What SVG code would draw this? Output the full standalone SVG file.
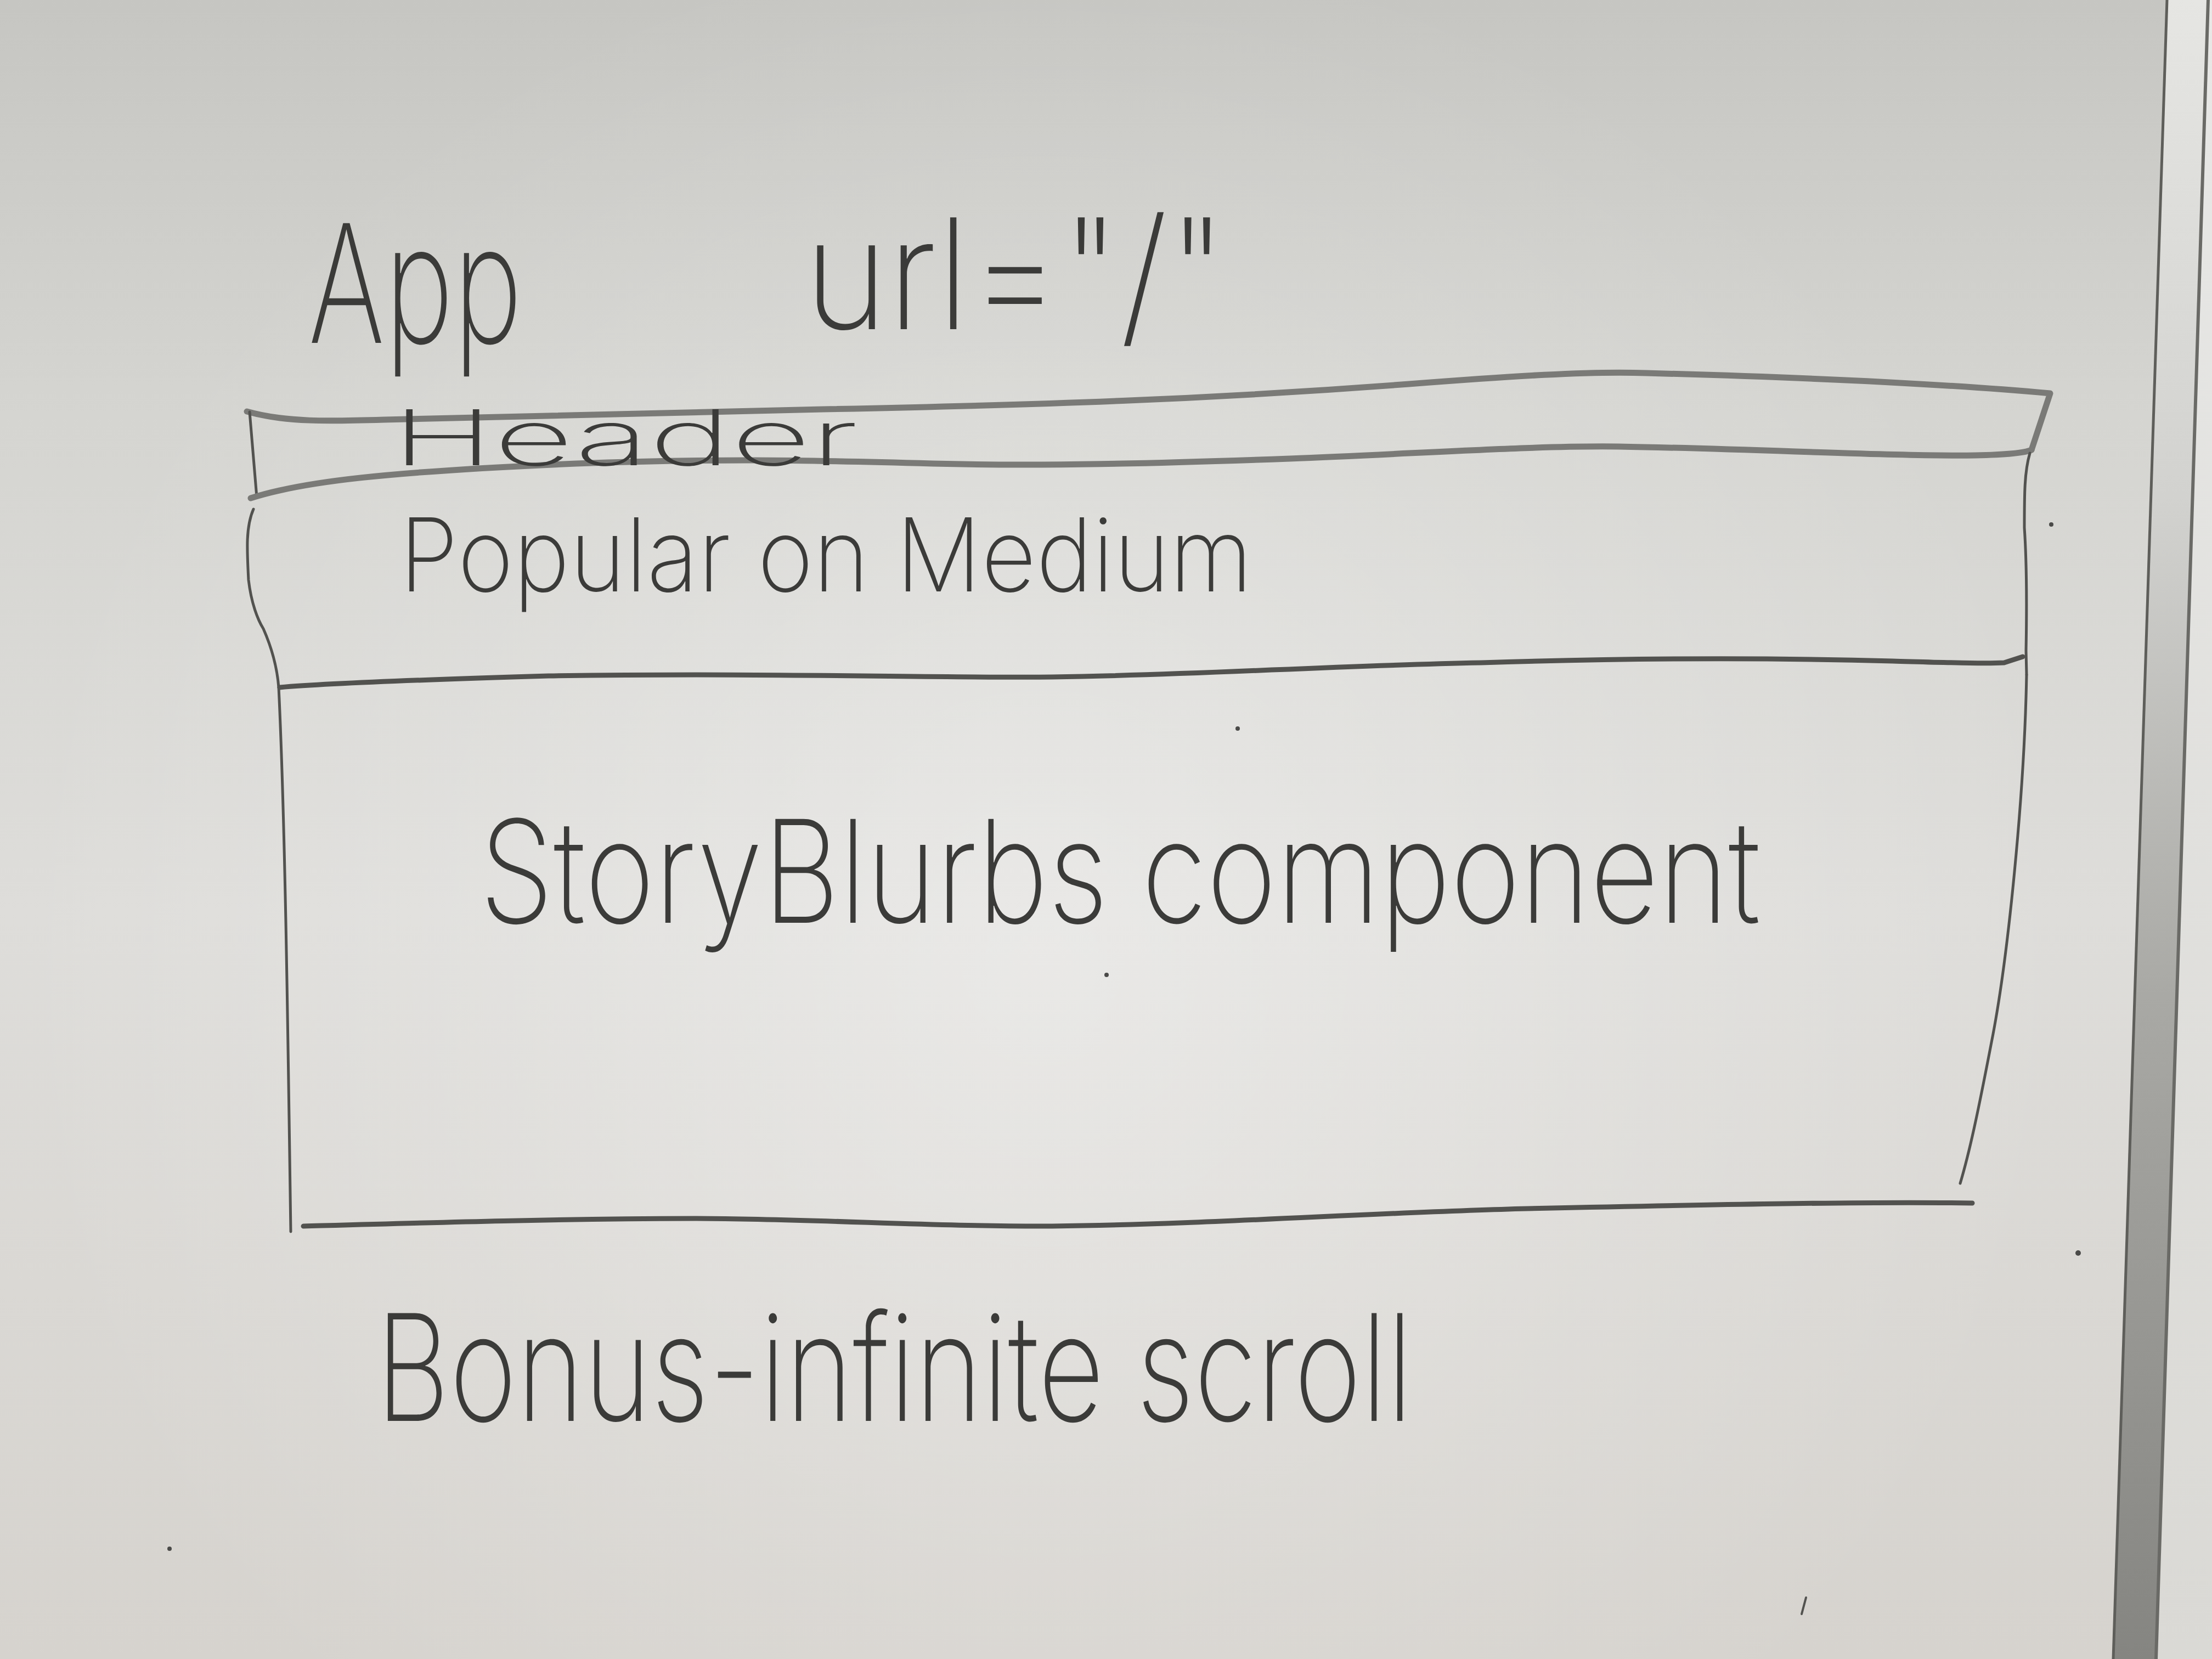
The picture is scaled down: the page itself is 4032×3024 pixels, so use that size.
<svg xmlns="http://www.w3.org/2000/svg" width="4032" height="3024" viewBox="0 0 4032 3024">
  <defs>
    <linearGradient id="board" x1="0" y1="0" x2="0" y2="1">
      <stop offset="0" stop-color="#c6c6c2"/>
      <stop offset="0.25" stop-color="#d5d5d1"/>
      <stop offset="0.55" stop-color="#dedddA"/>
      <stop offset="1" stop-color="#d6d3ce"/>
    </linearGradient>
    <radialGradient id="glow" cx="1900" cy="1750" r="1900" gradientUnits="userSpaceOnUse">
      <stop offset="0" stop-color="#ffffff" stop-opacity="0.36"/>
      <stop offset="0.6" stop-color="#ffffff" stop-opacity="0.12"/>
      <stop offset="1" stop-color="#ffffff" stop-opacity="0"/>
    </radialGradient>
    <linearGradient id="rail" x1="0" y1="0" x2="0" y2="1">
      <stop offset="0" stop-color="#e6e6e3"/>
      <stop offset="0.3" stop-color="#d2d2cf"/>
      <stop offset="0.6" stop-color="#a9a9a5"/>
      <stop offset="1" stop-color="#858581"/>
    </linearGradient>
    <linearGradient id="wall" x1="0" y1="0" x2="0" y2="1">
      <stop offset="0" stop-color="#e8e8e6"/>
      <stop offset="1" stop-color="#dad9d5"/>
    </linearGradient>
    <style>
      .ink { fill: none; stroke: #52524f; stroke-linecap: round; stroke-linejoin: round; }
      .thick { stroke-width: 9; }
      .soft { stroke: #7a7a77; stroke-width: 11; }
      .thin { stroke-width: 5; }
      .hand { font-family: Inter, Roboto, Lato, "Open Sans", "Liberation Sans", sans-serif; font-weight: 200; fill: #3b3b39; }
      .speck { fill: #4a4a48; }
    </style>
  </defs>

  <!-- whiteboard surface -->
  <rect x="0" y="0" width="4032" height="3024" fill="url(#board)"/>
  <rect x="0" y="0" width="4032" height="3024" fill="url(#glow)"/>

  <!-- aluminium rail and the wall behind it -->
  <polygon points="4025,0 4032,0 4032,3024 3930,3024" fill="url(#wall)"/>
  <polygon points="3950,0 4025,0 3930,3024 3852,3024" fill="url(#rail)"/>
  <line x1="3950" y1="0" x2="3852" y2="3024" stroke="#5e5e5a" stroke-width="5"/>
  <line x1="4025" y1="0" x2="3930" y2="3024" stroke="#6a6a66" stroke-width="6"/>

  <!-- page title -->
  <g id="app-label">
    <text class="hand" x="562" y="625" font-size="300" textLength="390" lengthAdjust="spacingAndGlyphs">App</text>
  </g>
  <g id="url-label">
    <text class="hand" x="1466" y="600" font-size="280" textLength="770" lengthAdjust="spacingAndGlyphs">url="/"</text>
  </g>

  <!-- header strip -->
  <g id="header">
    <path class="ink soft" d="M450,750 C520,770 600,768 700,765 C1000,760 1300,752 1500,746 C1900,738 2200,728 2568,700 C2750,686 2900,676 3000,680 C3300,688 3550,700 3737,717 L3703,820"/>
    <path class="ink thin" d="M455,751 L468,906"/>
    <path class="ink soft" d="M457,908 C550,878 700,860 1050,845 C1300,836 1450,838 1700,845 C1900,850 2100,845 2351,836 C2600,826 2800,812 2950,814 C3200,818 3450,832 3600,830 C3650,829 3690,826 3703,820"/>
    <text class="hand" x="714" y="848" font-size="140" textLength="850" lengthAdjust="spacingAndGlyphs" fill="#4a4a48">Header</text>
  </g>

  <!-- "Popular on Medium" band -->
  <g id="popular">
    <path class="ink thin" d="M462,928 C448,960 450,1000 453,1057 C458,1100 470,1130 480,1146 C495,1180 505,1215 508,1253"/>
    <path class="ink thin" d="M3700,826 C3690,860 3690,900 3690,962 C3694,1020 3695,1080 3693,1186 L3694,1230"/>
    <path class="ink thick" d="M510,1253 C600,1245 800,1238 1000,1232 C1400,1226 1700,1236 1918,1234 C2200,1230 2400,1214 2700,1208 C2950,1200 3200,1198 3450,1205 C3560,1208 3620,1210 3653,1208 L3687,1197"/>
    <text class="hand" x="728" y="1078" font-size="185" textLength="1555" lengthAdjust="spacingAndGlyphs">Popular on Medium</text>
  </g>

  <!-- story list area -->
  <g id="story-blurbs">
    <path class="ink thin" d="M508,1253 C520,1500 525,1900 530,2245"/>
    <path class="ink thin" d="M3694,1230 C3690,1450 3660,1750 3630,1900 C3605,2030 3590,2100 3573,2157"/>
    <path class="ink thick" d="M553,2235 C800,2228 1000,2222 1267,2221 C1500,2222 1700,2236 1918,2235 C2200,2232 2500,2210 2785,2203 C3100,2196 3400,2190 3595,2193"/>
    <text class="hand" x="874" y="1682" font-size="260" textLength="2335" lengthAdjust="spacingAndGlyphs">StoryBlurbs component</text>
  </g>

  <!-- note under the page -->
  <g id="bonus-note">
    <text class="hand" x="685" y="2590" font-size="270" textLength="1890" lengthAdjust="spacingAndGlyphs">Bonus-infinite scroll</text>
  </g>

  <!-- stray marker specks -->
  <g id="specks">
    <circle class="speck" cx="2256" cy="1328" r="4"/>
    <circle class="speck" cx="2017" cy="1777" r="4"/>
    <circle class="speck" cx="3739" cy="956" r="4"/>
    <circle class="speck" cx="3788" cy="2284" r="5"/>
    <circle class="speck" cx="309" cy="2823" r="4"/>
    <path class="ink" stroke-width="4" d="M3292,2912 L3284,2942"/>
  </g>
</svg>
